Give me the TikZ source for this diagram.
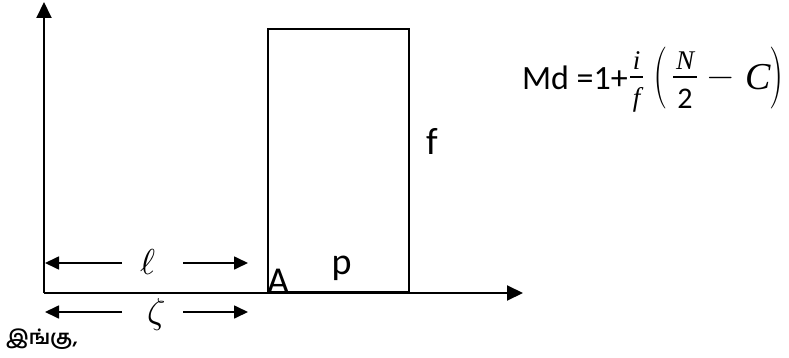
\documentclass[tikz,border=0pt]{standalone}
\usepackage{fontspec}
\setmainfont{Carlito}
\newfontfamily\tamilfont[Script=Tamil]{Hind Madurai}
\newfontfamily\lmfont{Latin Modern Roman}
\newfontfamily\lmm{Latin Modern Math}
\newfontfamily\tms{Liberation Serif}
\usetikzlibrary{arrows.meta}
\begin{document}
\begin{tikzpicture}[x=1pt,y=-1pt,
  axis/.style={line width=2pt,-{Triangle[length=16pt,width=15pt]}},
  dimarrow/.style={line width=1.7pt,-{Triangle[length=14pt,width=13pt]}},
  lbl/.style={inner sep=0pt,font=\fontsize{38}{40}\selectfont},
  greek/.style={inner sep=0pt,font=\fontsize{36}{38}\selectfont\lmm},
  fm/.style={inner sep=0pt},
  fmit/.style={inner sep=0pt,font=\fontsize{27}{29}\selectfont\tms\itshape},
  fbar/.style={line width=1.6pt}]
\useasboundingbox (0,0) rectangle (789,358);
\coordinate (O) at (44,293);
\coordinate (ytip) at (44,2);
\coordinate (xtip) at (523,293);
\draw[axis] (O) -- (ytip);
\draw[axis] (O) -- (xtip);
\node[draw,line width=1.7pt,minimum width=141pt,minimum height=263pt,inner sep=0pt,anchor=south west] (bar) at (267,293) {};
\node[lbl,anchor=base] (f) at (432,155) {f};
\node[lbl,anchor=base] (p) at (341.5,274) {p};
\node[lbl,anchor=base] (A) at (278,293) {A};
% ell arrows
\node[greek,anchor=base] (ell) at (148,274) {ℓ};
\coordinate (ellL) at (45,263);
\coordinate (ellR) at (248,263);
\draw[dimarrow] (122,263) -- (ellL);
\draw[dimarrow] (183,263) -- (ellR);
% zeta arrows
\node[greek,anchor=base] (zeta) at (155,323) {𝜁};
\coordinate (zL) at (45,312);
\coordinate (zR) at (248,312);
\draw[dimarrow] (122,312) -- (zL);
\draw[dimarrow] (183,312) -- (zR);
\node[inner sep=0pt,anchor=west,font=\fontsize{20}{22}\selectfont\tamilfont\bfseries] (ingu) at (6,339) {இங்கு,};
% formula
\node[fm,anchor=base east,font=\fontsize{34}{36}\selectfont] (md) at (628,90) {Md =1+};
\node[fmit,anchor=base] (fi) at (636.5,70) {i};
\draw[fbar] (630,77) -- (643,77);
\node[fmit,anchor=base] (ff) at (636.5,107) {f};
\node[fm,xscale=0.65,font=\fontsize{62}{62}\selectfont\lmfont] (lp) at (660.5,78.5) {(};
\node[fmit,anchor=base] (fN) at (685,70) {N};
\draw[fbar] (673,77) -- (697,77);
\node[fm,anchor=base,font=\fontsize{30}{32}\selectfont] (f2) at (685,109) {2};
\node[fm,anchor=base,font=\fontsize{34}{36}\selectfont\lmm] (minus) at (720.5,87) {−};
\node[fm,anchor=base,font=\fontsize{38}{40}\selectfont\tms\itshape] (C) at (758,90) {C};
\node[fm,xscale=0.65,font=\fontsize{62}{62}\selectfont\lmfont] (rp) at (776.5,78.5) {)};
\end{tikzpicture}
\end{document}
